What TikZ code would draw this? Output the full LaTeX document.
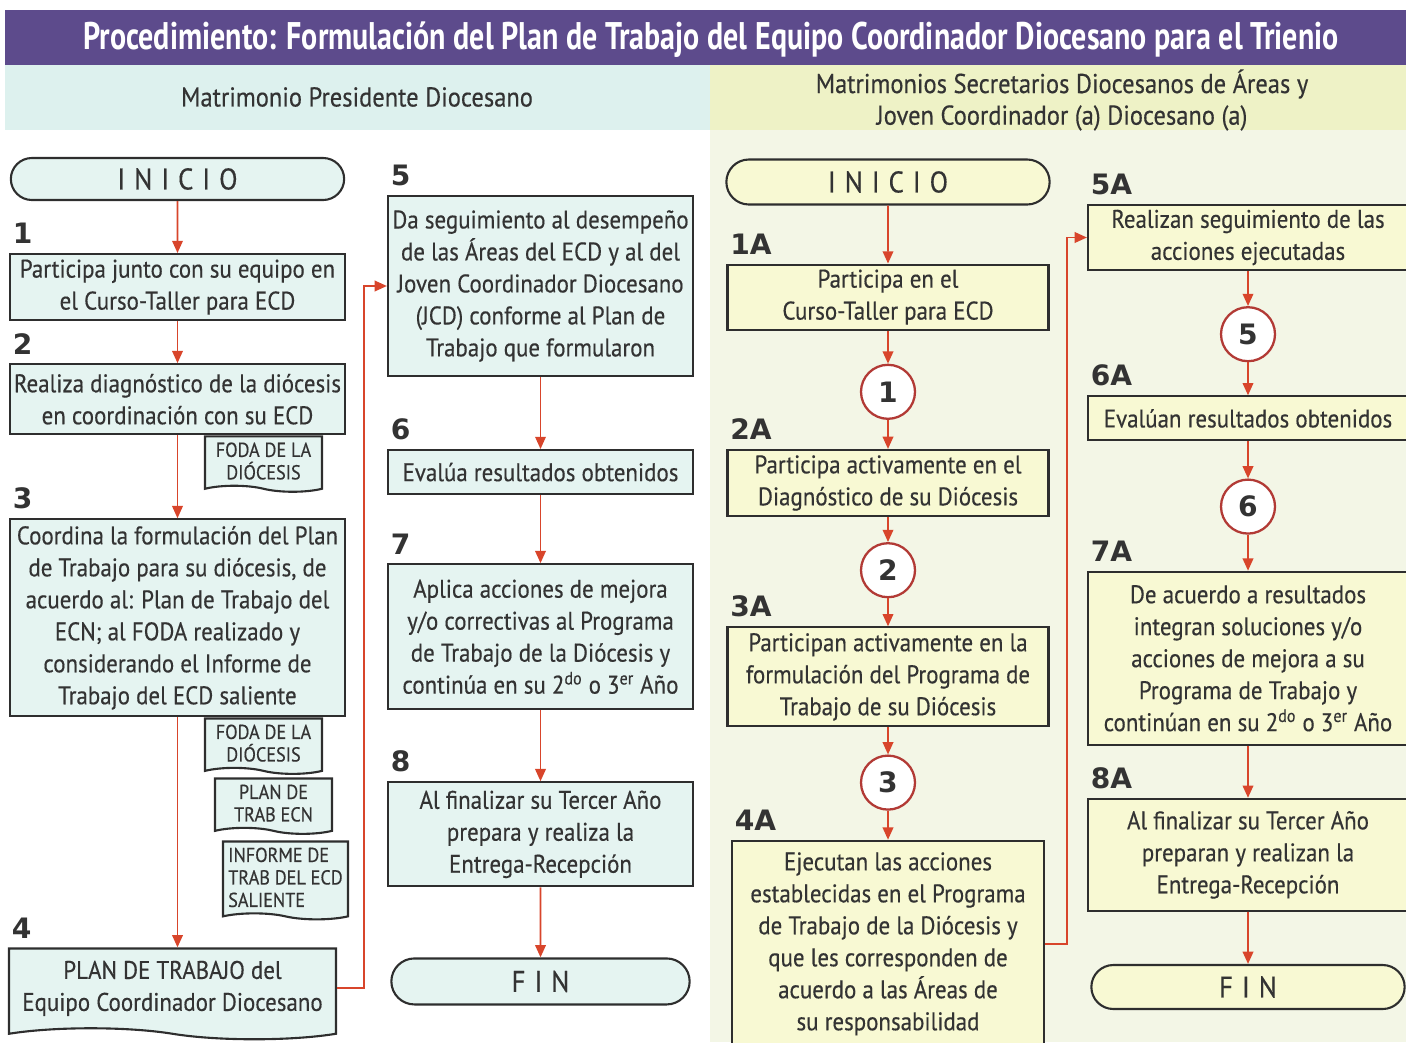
\documentclass[tikz,border=0pt]{standalone}
\usepackage{fontspec}
\setmainfont{PT Sans}[FakeStretch=0.9, FakeBold=0.4]
\newfontfamily\titlefont{PT Sans}[FakeStretch=0.78]
\newfontfamily\numfont{DejaVu Sans}
\usetikzlibrary{shapes, arrows.meta, positioning}

\definecolor{morado}{HTML}{5D4B8C}
\definecolor{menta}{HTML}{DDF1EE}
\definecolor{mentabox}{HTML}{E5F4F1}
\definecolor{amarillo}{HTML}{EEF2C6}
\definecolor{amarillobox}{HTML}{F8F9D3}
\definecolor{fondoder}{HTML}{F3F6E6}
\definecolor{flecharoja}{HTML}{D8452B}
\definecolor{borde}{HTML}{2E2E2E}
\definecolor{texto}{HTML}{333333}
\definecolor{circborde}{HTML}{B23A35}

\tikzset{
  caja/.style={draw=borde, line width=1.2pt, rectangle, align=center, inner sep=1pt, text=texto, font=\fontsize{14.5}{18.2}\selectfont},
  cajaL/.style={caja, fill=mentabox},
  cajaR/.style={caja, fill=amarillobox},
  terminal/.style={draw=borde, line width=1.2pt, rounded rectangle, text=texto, font=\fontsize{17}{20}\selectfont\addfontfeature{LetterSpace=30}},
  doc/.style={draw=borde, line width=1.2pt, fill=mentabox, tape, tape bend top=none, tape bend bottom=out and in, tape bend height=0.12cm, align=center, inner xsep=3pt, inner ysep=3.5pt, text=texto, font=\fontsize{11.5}{12.8}\selectfont},
  conector/.style={circle, draw=circborde, line width=1.3pt, fill=white, minimum size=1.08cm, inner sep=0pt, text=texto, font=\numfont\bfseries\fontsize{16}{16}\selectfont},
  numlbl/.style={anchor=south west, inner sep=2pt, yshift=3pt, text=texto, font=\numfont\bfseries\fontsize{16}{16}\selectfont},
  flecha/.style={-{Triangle[length=7pt,width=6pt]}, draw=flecharoja, line width=1.1pt},
}

\begin{document}
\begin{tikzpicture}
  \useasboundingbox (0,0) rectangle (28.12,-20.84);

  % Fondos de carriles
  \fill[morado] (0.1,-0.2) rectangle (28.12,-1.3);
  \fill[menta] (0.1,-1.3) rectangle (14.2,-2.6);
  \fill[amarillo] (14.2,-1.3) rectangle (28.12,-2.6);
  \fill[fondoder] (14.2,-2.6) rectangle (28.12,-20.84);

  % Titulo y responsables
  \node[text=white, font=\titlefont\bfseries\fontsize{21.9}{24}\selectfont] (titulo) at (14.22,-0.8) {Procedimiento: Formulación del Plan de Trabajo del Equipo Coordinador Diocesano para el Trienio};
  \node[text=texto, font=\fontsize{15.5}{17}\selectfont] (actorL) at (7.14,-1.94) {Matrimonio Presidente Diocesano};
  \node[text=texto, align=center, font=\fontsize{15.5}{18}\selectfont] (actorR) at (21.24,-2.0) {Matrimonios Secretarios Diocesanos de Áreas y\\Joven Coordinador (a) Diocesano (a)};

  % Columna izquierda
  \node[terminal, fill=mentabox, minimum width=6.9cm, minimum height=0.84cm] (inicioL) at (3.55,-3.58) {INICIO};
  \node[cajaL, minimum width=6.7cm, minimum height=1.32cm, below=1.04cm of inicioL, label={[numlbl]north west:1}] (paso1) {Participa junto con su equipo en\\el Curso-Taller para ECD};
  \node[cajaL, minimum width=6.7cm, minimum height=1.4cm, below=0.84cm of paso1, label={[numlbl]north west:2}] (paso2) {Realiza diagnóstico de la diócesis\\en coordinación con su ECD};
  \node[cajaL, minimum width=6.7cm, minimum height=3.94cm, below=1.66cm of paso2, label={[numlbl]north west:3}] (paso3) {Coordina la formulación del Plan\\de Trabajo para su diócesis, de\\acuerdo al: Plan de Trabajo del\\ECN; al FODA realizado y\\considerando el Informe de\\Trabajo del ECD saliente};
  \node[doc, font=\fontsize{14.5}{18.2}\selectfont, tape bend height=0.22cm, inner ysep=7pt, minimum width=6.54cm, minimum height=1.8cm, below=4.6cm of paso3, xshift=-0.1cm, label={[numlbl]north west:4}] (paso4) {PLAN DE TRABAJO del\\Equipo Coordinador Diocesano};

  % Documentos
  \node[doc, minimum width=2.34cm, anchor=north east, xshift=-0.46cm] (docA) at (paso2.south east) {FODA DE LA\\DIÓCESIS};
  \node[doc, minimum width=2.34cm, anchor=north east, xshift=-0.46cm] (docB) at (paso3.south east) {FODA DE LA\\DIÓCESIS};
  \node[doc, minimum width=2.34cm, anchor=north east, xshift=-0.26cm, yshift=-1.2cm] (docC) at (paso3.south east) {PLAN DE\\TRAB ECN};
  \node[doc, align=left, minimum width=2.46cm, anchor=north east, xshift=0.06cm, yshift=-2.46cm] (docD) at (paso3.south east) {INFORME DE\\TRAB DEL ECD\\SALIENTE};

  % Columna central
  \node[cajaL, minimum width=6.1cm, minimum height=3.6cm, label={[numlbl]north west:5}] (paso5) at (10.81,-5.72) {Da seguimiento al desempeño\\de las Áreas del ECD y al del\\Joven Coordinador Diocesano\\(JCD) conforme al Plan de\\Trabajo que formularon};
  \node[cajaL, minimum width=6.1cm, minimum height=0.88cm, below=1.44cm of paso5, label={[numlbl]north west:6}] (paso6) {Evalúa resultados obtenidos};
  \node[cajaL, minimum width=6.1cm, minimum height=2.9cm, below=1.36cm of paso6, label={[numlbl]north west:7}] (paso7) {Aplica acciones de mejora\\y/o correctivas al Programa\\de Trabajo de la Diócesis y\\continúa en su 2\textsuperscript{do} o 3\textsuperscript{er} Año};
  \node[cajaL, minimum width=6.1cm, minimum height=2.08cm, below=1.42cm of paso7, label={[numlbl]north west:8}] (paso8) {Al finalizar su Tercer Año\\prepara y realiza la\\Entrega-Recepción};
  \node[terminal, fill=mentabox, minimum width=6.2cm, minimum height=0.92cm, below=1.4cm of paso8] (finL) {FIN};

  % Columna derecha A
  \node[terminal, fill=amarillobox, minimum width=6.7cm, minimum height=0.9cm] (inicioR) at (17.76,-3.64) {INICIO};
  \node[cajaR, minimum width=6.42cm, minimum height=1.3cm, below=1.16cm of inicioR, label={[numlbl]north west:1A}] (paso1A) {Participa en el\\Curso-Taller para ECD};
  \node[conector, below=0.66cm of paso1A] (c1) {1};
  \node[cajaR, minimum width=6.42cm, minimum height=1.32cm, below=0.58cm of c1, label={[numlbl]north west:2A}] (paso2A) {Participa activamente en el\\Diagnóstico de su Diócesis};
  \node[conector, below=0.5cm of paso2A] (c2) {2};
  \node[cajaR, minimum width=6.42cm, minimum height=1.98cm, below=0.56cm of c2, label={[numlbl]north west:3A}] (paso3A) {Participan activamente en la\\formulación del Programa de\\Trabajo de su Diócesis};
  \node[conector, below=0.54cm of paso3A] (c3) {3};
  \node[cajaR, minimum width=6.24cm, minimum height=4.12cm, below=0.58cm of c3, label={[numlbl]north west:4A}] (paso4A) {Ejecutan las acciones\\establecidas en el Programa\\de Trabajo de la Diócesis y\\que les corresponden de\\acuerdo a las Áreas de\\su responsabilidad};

  % Columna derecha B
  \node[cajaR, minimum width=6.4cm, minimum height=1.3cm, label={[numlbl]north west:5A}] (paso5A) at (24.96,-4.75) {Realizan seguimiento de las\\acciones ejecutadas};
  \node[conector, below=0.7cm of paso5A] (c5) {5};
  \node[cajaR, minimum width=6.4cm, minimum height=0.88cm, below=0.66cm of c5, label={[numlbl]north west:6A}] (paso6A) {Evalúan resultados obtenidos};
  \node[conector, below=0.74cm of paso6A] (c6) {6};
  \node[cajaR, minimum width=6.4cm, minimum height=3.46cm, below=0.72cm of c6, label={[numlbl]north west:7A}] (paso7A) {De acuerdo a resultados\\integran soluciones y/o\\acciones de mejora a su\\Programa de Trabajo y\\continúan en su 2\textsuperscript{do} o 3\textsuperscript{er} Año};
  \node[cajaR, minimum width=6.4cm, minimum height=2.24cm, below=1.04cm of paso7A, label={[numlbl]north west:8A}] (paso8A) {Al finalizar su Tercer Año\\preparan y realizan la\\Entrega-Recepción};
  \node[terminal, fill=amarillobox, minimum width=6.5cm, minimum height=0.88cm, below=1.04cm of paso8A] (finR) {FIN};

  % Flujo izquierda y centro
  \draw[flecha] (inicioL) -- (paso1);
  \draw[flecha] (paso1) -- (paso2);
  \draw[flecha] (paso2) -- (paso3);
  \draw[flecha] (paso3) -- (paso3 |- paso4.north);
  \draw[flecha] (paso4.east) -- ++(0.54,0) |- (paso5.west);
  \draw[flecha] (paso5) -- (paso6);
  \draw[flecha] (paso6) -- (paso7);
  \draw[flecha] (paso7) -- (paso8);
  \draw[flecha] (paso8) -- (finL);

  % Flujo derecha
  \draw[flecha] (inicioR) -- (paso1A);
  \draw[flecha] (paso1A) -- (c1);
  \draw[flecha] (c1) -- (paso2A);
  \draw[flecha] (paso2A) -- (c2);
  \draw[flecha] (c2) -- (paso3A);
  \draw[flecha] (paso3A) -- (c3);
  \draw[flecha] (c3) -- (paso4A);
  \draw[flecha] (paso4A.east) -- ++(0.44,0) |- (paso5A.west);
  \draw[flecha] (paso5A) -- (c5);
  \draw[flecha] (c5) -- (paso6A);
  \draw[flecha] (paso6A) -- (c6);
  \draw[flecha] (c6) -- (paso7A);
  \draw[flecha] (paso7A) -- (paso8A);
  \draw[flecha] (paso8A) -- (finR);
\end{tikzpicture}
\end{document}
